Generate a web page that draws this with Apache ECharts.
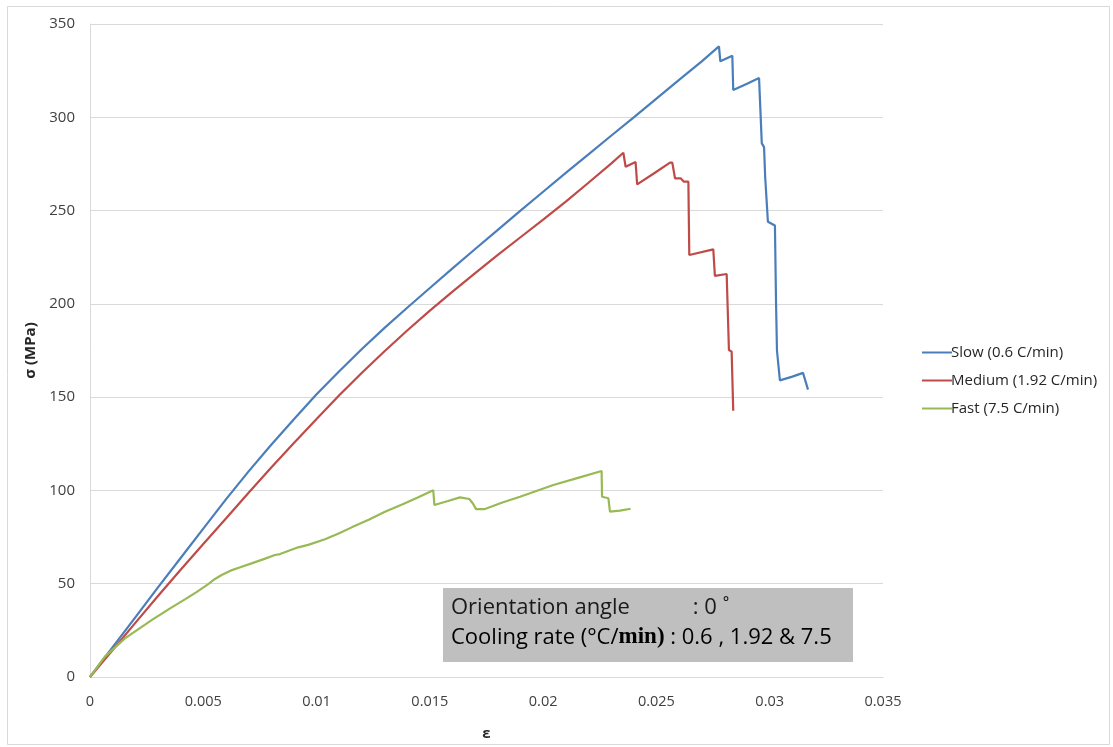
<!DOCTYPE html>
<html>
<head>
<meta charset="utf-8">
<script src="https://cdn.jsdelivr.net/npm/echarts@6/dist/echarts.min.js"></script>
<style>
html,body{margin:0;padding:0;background:#fff;}
#chart{width:1113px;height:747px;}
</style>
</head>
<body>
<div id="chart"></div>
<script>
// ---- data (strain ε, stress σ in MPa) ----
const seriesNames = ['Slow (0.6 C/min)', 'Medium (1.92 C/min)', 'Fast (7.5 C/min)'];

const slowStrain = [0,0.001,0.002,0.003,0.004,0.005,0.006,0.007,0.008,0.009,0.010,0.011,0.012,0.013,0.014,0.015,0.016,0.017,0.018,0.019,0.020,0.021,0.022,0.023,0.024,0.025,0.026,0.027,0.02776,0.02782,0.02835,0.02839,0.0290,0.02953,0.0296,0.02965,0.02975,0.0298,0.02986,0.02992,0.03023,0.03028,0.03032,0.03036,0.03045,0.0310,0.03147,0.03155,0.03169];
const slowStress = [0,16,32,48,63.8,79.5,95.2,110.2,124.5,138.2,151.5,163.9,175.8,187.1,197.9,208.5,219,229.4,239.7,250,260.1,270.2,280.1,290.1,300,310,320,330,338,330,333,314.6,318,321,320,286,284,268,267,244,242,200,175,174,159,161,163,163,154];

const mediumStrain = [0,0.001,0.002,0.003,0.004,0.005,0.006,0.007,0.008,0.009,0.010,0.011,0.012,0.013,0.014,0.015,0.016,0.017,0.018,0.019,0.020,0.021,0.022,0.023,0.02354,0.02364,0.02408,0.02415,0.0249,0.0256,0.0257,0.02582,0.02607,0.02621,0.02641,0.02645,0.02751,0.02758,0.0281,0.0282,0.02832,0.02839];
const mediumStress = [0,14.5,29,43.4,57.5,71.3,85,98.8,112.3,125.4,138.3,151,163.1,174.6,185.7,196.4,206.6,216.5,226.2,235.7,245.2,254.8,264.9,275.2,281,273.5,276,264,270,275.7,275.7,267.3,267.3,265.5,265.5,226.2,229.2,215,216,175.3,174.4,142.7];

const fastStrain = [0,0.00066,0.00154,0.00272,0.0035,0.00419,0.0047,0.00522,0.0055,0.00581,0.0062,0.0066,0.00713,0.0077,0.00816,0.00839,0.0088,0.00919,0.00963,0.01037,0.0110,0.01155,0.0123,0.01302,0.0138,0.01449,0.01515,0.0152,0.0158,0.01633,0.01674,0.0169,0.01704,0.01743,0.0182,0.01898,0.0197,0.02045,0.0215,0.02258,0.0226,0.02288,0.02295,0.02339,0.02386];
const fastStress = [0,10.9,20.7,30.5,36.5,41.6,45.5,49.8,52.4,54.7,57,58.7,60.9,63.3,65.4,65.9,67.8,69.5,70.8,73.8,77,80.2,84.3,88.6,92.6,96.3,100.1,92.2,94.3,96.3,95.4,93,90,90,93.5,96.6,99.7,102.9,106.6,110.4,96.6,95.8,88.6,89.2,90.2];

const xTicks = ['0','0.005','0.01','0.015','0.02','0.025','0.03','0.035'];
const noteLine1 = 'Orientation angle           : 0 ˚';
const noteLine2a = 'Cooling rate (°C/';
const noteLine2b = 'min)';
const noteLine2c = ' : 0.6 , 1.92 & 7.5';

const colors = ['#4a7ebb', '#be4b48', '#98b954'];
const zip = (xs, ys) => xs.map((x, i) => [x, ys[i]]);

const chart = echarts.init(document.getElementById('chart'));
const font = '"Open Sans", "Noto Sans", sans-serif';

chart.setOption({
  animation: false,
  backgroundColor: '#ffffff',
  color: colors,
  grid: {left: 90, top: 24, right: 230, bottom: 70, containLabel: false},
  xAxis: {
    type: 'value', min: 0, max: 0.035, interval: 0.005,
    name: 'ε', nameLocation: 'middle', nameGap: 49,
    nameTextStyle: {fontFamily: font, fontWeight: 'bold', fontSize: 15, color: '#262626'},
    axisLine: {show: true, lineStyle: {color: '#d9d9d9', width: 1}},
    axisTick: {show: false},
    splitLine: {show: false},
    axisLabel: {
      fontFamily: font, fontSize: 14.5, color: '#404040', margin: 17,
      formatter: (v) => { const i = Math.round(v / 0.005); return xTicks[i] !== undefined ? xTicks[i] : ''; }
    }
  },
  yAxis: {
    type: 'value', min: 0, max: 350, interval: 50,
    name: 'σ (MPa)', nameLocation: 'middle', nameGap: 52, nameRotate: 90,
    nameTextStyle: {fontFamily: font, fontWeight: 'bold', fontSize: 15, color: '#262626'},
    axisLine: {show: true, lineStyle: {color: '#d9d9d9', width: 1}},
    axisTick: {show: false},
    splitLine: {show: true, lineStyle: {color: '#d9d9d9', width: 1}},
    axisLabel: {fontFamily: font, fontSize: 15, color: '#404040', margin: 15}
  },
  legend: {
    orient: 'vertical', left: 917, top: 340, itemGap: 13,
    itemWidth: 30, itemHeight: 2, icon: 'rect',
    textStyle: {fontFamily: font, fontSize: 15, color: '#262626', padding: [0,0,0,-6], lineHeight: 15},
    data: seriesNames
  },
  series: [
    {name: seriesNames[0], type: 'line', data: zip(slowStrain, slowStress), symbol: 'none', lineStyle: {width: 2.2, color: colors[0]}},
    {name: seriesNames[1], type: 'line', data: zip(mediumStrain, mediumStress), symbol: 'none', lineStyle: {width: 2.2, color: colors[1]}},
    {name: seriesNames[2], type: 'line', data: zip(fastStrain, fastStress), symbol: 'none', lineStyle: {width: 2.2, color: colors[2]}}
  ],
  graphic: [
    {type: 'rect', left: 5, top: 4, shape: {width: 1102, height: 738}, style: {fill: 'none', stroke: '#d9d9d9', lineWidth: 1}, silent: true},
    {type: 'rect', left: 443, top: 588, shape: {width: 410, height: 74}, style: {fill: '#bfbfbf'}, silent: true, z: 10},
    {type: 'text', left: 451, top: 597, z: 11, style: {text: noteLine1, fontFamily: font, fontSize: 22, fill: '#1a1a1a'}},
    {type: 'text', left: 451, top: 626, z: 11, style: {
      text: '{a|' + noteLine2a + '}{b|' + noteLine2b + '}{a|' + noteLine2c + '}',
      rich: {
        a: {fontFamily: font, fontSize: 22, color: '#1a1a1a'},
        b: {fontFamily: '"Liberation Serif", serif', fontWeight: 'bold', fontSize: 23, color: '#1a1a1a'}
      }
    }}
  ]
});
</script>
</body>
</html>
